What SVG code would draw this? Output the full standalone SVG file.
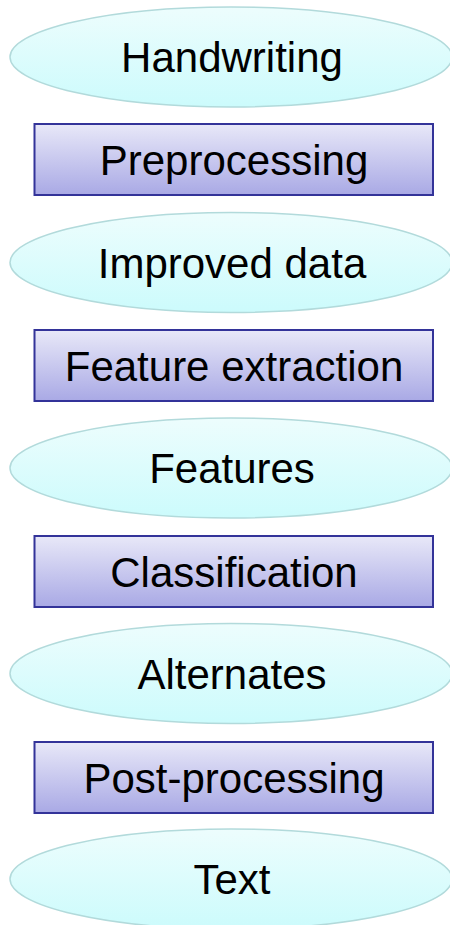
<svg xmlns="http://www.w3.org/2000/svg" width="450" height="925" viewBox="0 0 450 925">
  <defs>
    <linearGradient id="gE" x1="0" y1="0" x2="0" y2="1">
      <stop offset="0" stop-color="#edfdfd"/>
      <stop offset="1" stop-color="#ccfbfc"/>
    </linearGradient>
    <linearGradient id="gR" x1="0" y1="0" x2="0" y2="1">
      <stop offset="0" stop-color="#e8e8f8"/>
      <stop offset="1" stop-color="#a9a9e5"/>
    </linearGradient>
  </defs>
  <style>
    .ell { fill: url(#gE); stroke: #b2dadb; stroke-width: 1.5; }
    .box { fill: url(#gR); stroke: #333399; stroke-width: 2; }
    .lbl { font-family: "Liberation Sans", Arial, sans-serif; font-size: 42px; fill: #000; text-anchor: middle; }
  </style>
  <rect width="450" height="925" fill="#ffffff"/>
  <g id="handwriting">
    <ellipse class="ell" cx="231" cy="57" rx="221" ry="50"/>
    <text class="lbl" x="232" y="72">Handwriting</text>
  </g>
  <g id="preprocessing">
    <rect class="box" x="34.5" y="124" width="398.5" height="71"/>
    <text class="lbl" x="234" y="175">Preprocessing</text>
  </g>
  <g id="improved-data">
    <ellipse class="ell" cx="231" cy="262.5" rx="221" ry="50"/>
    <text class="lbl" x="232" y="277.5">Improved data</text>
  </g>
  <g id="feature-extraction">
    <rect class="box" x="34.5" y="330" width="398.5" height="71"/>
    <text class="lbl" x="234" y="381">Feature extraction</text>
  </g>
  <g id="features">
    <ellipse class="ell" cx="231" cy="468" rx="221" ry="50"/>
    <text class="lbl" x="232" y="483">Features</text>
  </g>
  <g id="classification">
    <rect class="box" x="34.5" y="536" width="398.5" height="71"/>
    <text class="lbl" x="234" y="587">Classification</text>
  </g>
  <g id="alternates">
    <ellipse class="ell" cx="231" cy="673.5" rx="221" ry="50"/>
    <text class="lbl" x="232" y="688.5">Alternates</text>
  </g>
  <g id="post-processing">
    <rect class="box" x="34.5" y="742" width="398.5" height="71"/>
    <text class="lbl" x="234" y="793">Post-processing</text>
  </g>
  <g id="text">
    <ellipse class="ell" cx="231" cy="879" rx="221" ry="50"/>
    <text class="lbl" x="232" y="894">Text</text>
  </g>
  <g id="connectors"/>
</svg>
